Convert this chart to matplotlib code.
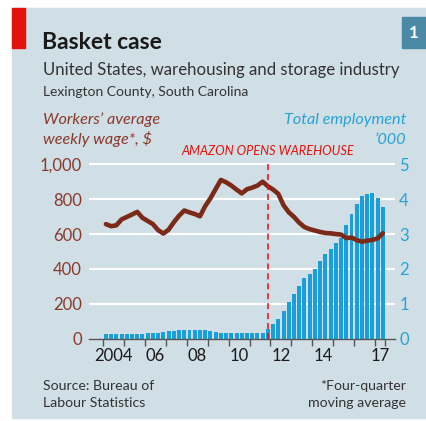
import matplotlib.pyplot as plt
import matplotlib.patches as patches
import numpy as np

# quarterly data, 2004 Q1 to 2017 Q2
employment = [0.13, 0.13, 0.13, 0.13,
              0.13, 0.13, 0.14, 0.14,
              0.15, 0.15, 0.17, 0.19,
              0.21, 0.23, 0.25, 0.25,
              0.25, 0.25, 0.25, 0.24,
              0.21, 0.19, 0.17, 0.16,
              0.15, 0.15, 0.15, 0.15,
              0.15, 0.15, 0.155, 0.27,
              0.42, 0.56, 0.79, 1.06,
              1.27, 1.51, 1.73, 1.85,
              2.00, 2.23, 2.42, 2.58,
              2.74, 2.89, 3.26, 3.57,
              3.86, 4.10, 4.14, 4.17,
              4.04, 3.78]  # '000

wage = [657, 645, 650, 684,
        698, 712, 727, 693,
        675, 657, 622, 603,
        625, 668, 705, 735,
        724, 715, 702, 760,
        805, 858, 910, 897,
        878, 855, 833, 857,
        866, 878, 900, 874,
        855, 830, 765, 725,
        698, 665, 640, 628,
        620, 612, 606, 604,
        600, 597, 577, 580,
        565, 556, 562, 566,
        575, 605]  # $

year_labels = ["2004", "06", "08", "10", "12", "14", "17"]
label_pos = [2004.5, 2006.5, 2008.5, 2010.5, 2012.5, 2014.5, 2017.27]
amazon_date = 2011.875

quarters = 2004 + (np.arange(len(employment)) + 0.5) / 4

BG = "#d0dee6"
BROWN = "#7b2a18"
BROWN_TXT = "#8a3a2a"
BLUE = "#1a9fdb"
BLUE_TXT = "#27a3d6"
RED = "#e3120b"

W, H = 426, 421
fig = plt.figure(figsize=(W / 100, H / 100), dpi=100)
fig.patch.set_facecolor("white")
plt.rcParams['font.family'] = ['Lato', 'DejaVu Sans']


def fx(x):
    return x / W


def fy(y):
    return 1 - y / H


# panel background, red tag and number box
fig.patches.append(patches.Rectangle((fx(12), fy(418)), fx(W - 12), (418 - 7.5) / H,
                                     transform=fig.transFigure, color=BG, zorder=-5))
fig.patches.append(patches.Rectangle((fx(12), fy(48)), fx(13), 40.5 / H,
                                     transform=fig.transFigure, color=RED, zorder=-4))
fig.patches.append(patches.Rectangle((fx(401.5), fy(47.5)), fx(24.5), 30 / H,
                                     transform=fig.transFigure, color="#4a8aa6", zorder=-4))
fig.text(fx(414), fy(33), "1", color="white", fontsize=12, fontweight="bold",
         ha="center", va="center")

fig.text(fx(42), fy(49), "Basket case", fontsize=16.5, fontweight="bold", color="#1a1a1a")
fig.text(fx(43), fy(75), "United States, warehousing and storage industry",
         fontsize=12.1, color="#333333")
fig.text(fx(43), fy(96.5), "Lexington County, South Carolina", fontsize=10.0, color="#333333")
fig.text(fx(43), fy(124), "Workers\u2019 average", fontsize=11.7, style="italic", color=BROWN_TXT)
fig.text(fx(43), fy(144), "weekly wage*, $", fontsize=11.7, style="italic", color=BROWN_TXT)
fig.text(fx(406), fy(124), "Total employment", fontsize=11.7, style="italic",
         color=BLUE_TXT, ha="right")
fig.text(fx(406), fy(144), "\u2019000", fontsize=11.7, style="italic", color=BLUE_TXT, ha="right")
fig.text(fx(43), fy(390), "Source: Bureau of", fontsize=10.2, color="#333333")
fig.text(fx(43), fy(407), "Labour Statistics", fontsize=10.2, color="#333333")
fig.text(fx(406), fy(390), "*Four-quarter", fontsize=10.2, color="#333333", ha="right")
fig.text(fx(406), fy(407), "moving average", fontsize=10.2, color="#333333", ha="right")

# plot area
ax = fig.add_axes([fx(89), fy(338.7), fx(395 - 89), (338.7 - 158) / H])
ax.set_facecolor("none")
ax.set_xlim(2003.316, 2017.957)
ax.set_ylim(0, 1036)
ax2 = ax.twinx()
ax2.set_ylim(0, 1036 / 200)
ax2.set_zorder(2)
ax.set_zorder(3)

for v in range(200, 1001, 200):
    ax2.axhline(v / 200, color="white", lw=1.6, zorder=1)

ax2.bar(quarters, employment, width=0.19, color=BLUE, zorder=2)
ax.plot(quarters, wage, color=BROWN, lw=3.3, solid_joinstyle="round",
        solid_capstyle="round", zorder=5)

ax.axvline(amazon_date, ymin=0, ymax=(1036 - 30) / 1036, color=RED, lw=1.1,
           ls=(0, (4, 2.5)), zorder=6)
ax.text(amazon_date, 1036 + 6, "AMAZON OPENS WAREHOUSE", color=RED, fontsize=9.2,
        style="italic", ha="center", va="bottom", clip_on=False)

ax.axhline(0, color="#555555", lw=1.0, zorder=7, clip_on=False)

for a in (ax, ax2):
    for s in a.spines.values():
        s.set_visible(False)

ax.set_yticks(range(0, 1001, 200))
ax.set_yticklabels(["0", "200", "400", "600", "800", "1,000"])
ax.tick_params(axis="y", length=0, pad=5, labelsize=12, labelcolor=BROWN_TXT)
ax2.set_yticks(range(0, 6))
ax2.tick_params(axis="y", length=0, pad=3, labelsize=12, labelcolor=BLUE_TXT)

ax.set_xticks(label_pos)
ax.set_xticklabels(year_labels)
ax.set_xticks(list(range(2004, 2018)) + [2017.5], minor=True)
ax.tick_params(axis="x", which="major", length=0, pad=7, labelsize=12, labelcolor="#1a1a1a")
ax.tick_params(axis="x", which="minor", length=5, width=1, color="#555555", direction="out")

fig.savefig("out.png", dpi=100, facecolor=fig.get_facecolor())
